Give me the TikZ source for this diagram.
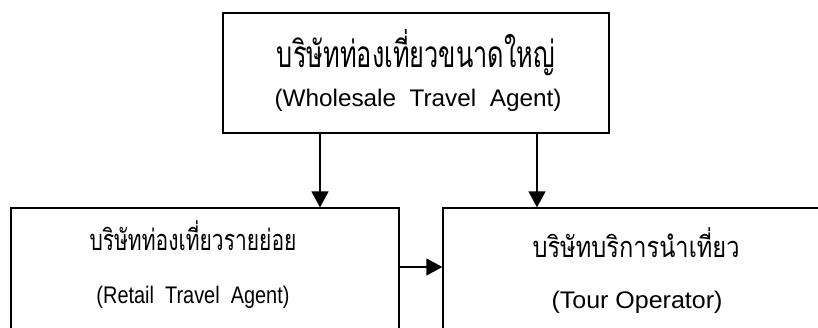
\documentclass[tikz,border=0pt]{standalone}
\usepackage{fontspec}
\setmainfont{Liberation Sans}
\newfontfamily\thaifont[Script=Thai]{Loma}
\usetikzlibrary{arrows.meta}
\newcommand{\fitw}[2]{\resizebox{#1}{\height}{#2}}
\begin{document}
\begin{tikzpicture}[x=1pt,y=-1pt,
  box/.style={draw,line width=1.4pt,rectangle,inner sep=0pt},
  arr/.style={line width=1.6pt,-{Triangle[length=16pt,width=17pt]}},
  lbl/.style={anchor=base,inner sep=0pt}]
\useasboundingbox (0,0) rectangle (818,327);
\clip (0,0) rectangle (818,327);
\node[box,minimum width=386pt,minimum height=120pt] (top) at (416,73) {};
\node[box,minimum width=388pt,minimum height=140pt] (left) at (205,278) {};
\node[box,minimum width=400pt,minimum height=140pt] (right) at (643,278) {};
% labels
\node[lbl] (t1) at (416,67) {\thaifont\fontsize{37}{44}\selectfont\fitw{278pt}{บริษัทท่องเที่ยวขนาดใหญ่}};
\node[lbl] (e1) at (418,106) {\fontsize{24}{28}\selectfont\fitw{287pt}{(Wholesale\ \ Travel\ \ Agent)}};
\node[lbl] (t2) at (193,250) {\thaifont\fontsize{29}{34}\selectfont\fitw{207pt}{บริษัทท่องเที่ยวรายย่อย}};
\node[lbl] (e2) at (193,303) {\fontsize{24}{28}\selectfont\fitw{193pt}{(Retail\ \ Travel\ \ Agent)}};
\node[lbl] (t3) at (636,257) {\thaifont\fontsize{29}{34}\selectfont\fitw{207pt}{บริษัทบริการนำเที่ยว}};
\node[lbl] (e3) at (637,308) {\fontsize{24}{28}\selectfont\fitw{171pt}{(Tour Operator)}};
% connectors
\draw[arr] ([xshift=-96pt]top.south) coordinate (a1) -- (a1 |- left.north);
\draw[arr] ([xshift=121pt]top.south) coordinate (a2) -- (a2 |- right.north);
\draw[arr] ([yshift=11pt]left.east) coordinate (a3) -- (a3 -| right.west);
\end{tikzpicture}
\end{document}
